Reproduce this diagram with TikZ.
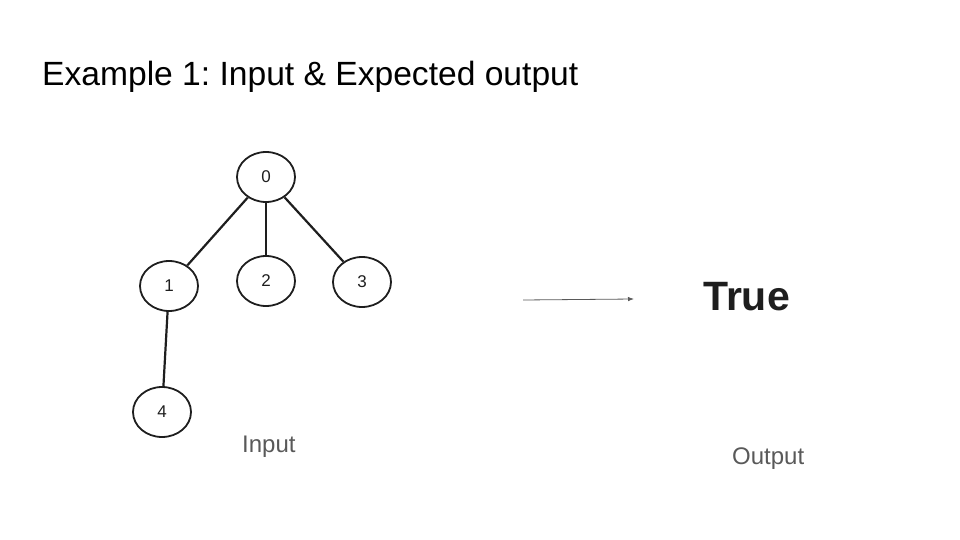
\documentclass[tikz,border=0pt]{standalone}
\usepackage{fontspec}
\setmainfont{Liberation Sans}
\usetikzlibrary{shapes.geometric,arrows.meta}
\definecolor{ink}{HTML}{1E1E1E}
\definecolor{labelgray}{HTML}{595959}
\tikzset{
  treenode/.style={draw=ink, ellipse, line width=1.8pt, minimum width=58pt, minimum height=50pt, inner sep=0pt, font=\fontsize{17}{19}\selectfont, text=ink},
  treeedge/.style={draw=ink, line width=2.2pt},
  caption/.style={font=\fontsize{24}{28}\selectfont, text=labelgray, anchor=base west, inner sep=0pt},
}
\frenchspacing
\begin{document}
\begin{tikzpicture}[x=1pt,y=-1pt]
\useasboundingbox (0,0) rectangle (960,540);
\node[anchor=base west, inner sep=0pt, font=\fontsize{33.6}{40}\selectfont] (title) at (42,86) {Example 1: Input \& Expected output};
\node[treenode] (n0) at (266,177) {0};
\node[treenode] (n1) at (169,286) {1};
\node[treenode] (n2) at (266,281) {2};
\node[treenode] (n3) at (362,282) {3};
\node[treenode] (n4) at (162,412) {4};
\draw[treeedge] (n0) -- (n1);
\draw[treeedge] (n0) -- (n2);
\draw[treeedge] (n0) -- (n3);
\draw[treeedge] (n1) -- (n4);
\coordinate (a1) at (523,300);
\coordinate (a2) at (634,299);
\draw[draw=labelgray, line width=0.8pt, -{Latex[length=6pt,width=4.5pt]}] (a1) -- (a2);
\node[anchor=base west, inner sep=0pt, font=\bfseries\fontsize{41}{46}\selectfont, text=ink] (res) at (703,310) {True};
\node[caption] (inlabel) at (242,452) {Input};
\node[caption] (outlabel) at (732,464) {Output};
\end{tikzpicture}
\end{document}
